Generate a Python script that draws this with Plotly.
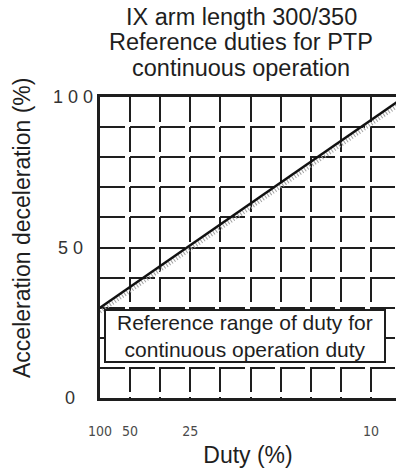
import plotly.graph_objects as go

# Reference duty line: acceleration/deceleration (%) against duty (%)
line_duty = [100, 9.0]
line_accel = [30, 100]

# Duty tick labels (%) and acceleration tick labels (%)
duty_ticks = [100, 50, 25, 10]
accel_ticks = [0, 50, 100]
accel_tick_text = ["0", "5 0", "1 0 0"]
accel_tick_right = [77, 85, 95]   # right edge of each label, px from left

title_lines = ["IX arm length 300/350", "Reference duties for PTP", "continuous operation"]
title_centers = [17, 42, 68]      # px from top

W, H = 396, 474
L, R, T, B = 100, 0, 97, 76
PW, PH = W - L - R, H - T - B

FONT = "Liberation Sans, Arial, sans-serif"
INK = "#1e1e1e"

# The horizontal scale is linear in 100/duty
def inv(d):
    return 100.0 / d

x_line = [inv(d) for d in line_duty]
x_max = 1 + PW / 30.1

fig = go.Figure()

# hatching below the reference line
fig.add_trace(go.Scatter(
    x=x_line, y=[a - 1.3 for a in line_accel], mode="lines",
    line=dict(color="#a0a0a0", width=4, dash="1px,2px"),
    hoverinfo="skip", showlegend=False, cliponaxis=True))
fig.add_trace(go.Scatter(
    x=x_line, y=line_accel, mode="lines",
    line=dict(color="#111111", width=2.5),
    showlegend=False, cliponaxis=True))

grid_style = dict(gridcolor=INK, gridwidth=2, griddash="25px,5px")

fig.update_xaxes(
    range=[1, x_max], tickmode="array",
    tickvals=[inv(d) for d in duty_ticks], ticktext=[str(d) for d in duty_ticks],
    ticks="", ticklabelstandoff=18,
    tickfont=dict(family="Liberation Sans Narrow, DejaVu Sans Condensed, sans-serif",
                  size=14, color="#4a4a4a"),
    showgrid=True, **grid_style,
    minor=dict(tick0=1, dtick=1, showgrid=True, **grid_style),
    showline=True, linecolor=INK, linewidth=2.5, mirror=True,
    zeroline=False, fixedrange=True,
    title=dict(text="Duty (%)", font=dict(family=FONT, size=23, color=INK), standoff=10),
)
fig.update_yaxes(
    range=[0, 100], tickmode="array", tickvals=accel_ticks, showticklabels=False,
    ticks="", showgrid=True, **grid_style,
    minor=dict(tick0=0, dtick=10, showgrid=True, **grid_style),
    showline=True, linecolor=INK, linewidth=2.5, mirror=False,
    zeroline=False, fixedrange=True,
)

annotations = []
for v, txt, xr in zip(accel_ticks, accel_tick_text, accel_tick_right):
    annotations.append(dict(
        x=(xr - L) / PW, xref="paper", y=v, yref="y", text=txt,
        xanchor="right", yanchor="middle", showarrow=False,
        font=dict(family=FONT, size=18, color="#333333")))

for txt, yc in zip(title_lines, title_centers):
    annotations.append(dict(
        x=(241 - L) / PW, xref="paper", y=1 + (T - yc) / PH, yref="paper",
        text=txt, xanchor="center", yanchor="middle", showarrow=False,
        font=dict(family=FONT, size=23.5, color=INK)))

# vertical axis title
annotations.append(dict(
    x=(22 - L) / PW, xref="paper", y=(H - B - 228) / PH, yref="paper",
    text="Acceleration deceleration (%)", textangle=-90,
    xanchor="center", yanchor="middle", showarrow=False,
    font=dict(family=FONT, size=23, color=INK)))

# boxed note
box = dict(x0=105, x1=385, y0=310, y1=362)
annotations.append(dict(
    x=((box["x0"] + box["x1"]) / 2 - L) / PW, xref="paper",
    y=(H - B - (box["y0"] + box["y1"]) / 2) / PH, yref="paper",
    text="Reference range of duty for<br>continuous operation duty",
    xanchor="center", yanchor="middle", showarrow=False,
    font=dict(family=FONT, size=21, color=INK)))

shapes = [dict(
    type="rect", xref="paper", yref="paper", layer="above",
    x0=(box["x0"] - L) / PW, x1=(box["x1"] - L) / PW,
    y0=(H - B - box["y1"]) / PH, y1=(H - B - box["y0"]) / PH,
    fillcolor="white", line=dict(color=INK, width=2))]

fig.update_layout(
    width=W, height=H, margin=dict(l=L, r=R, t=T, b=B),
    paper_bgcolor="white", plot_bgcolor="white",
    annotations=annotations, shapes=shapes, showlegend=False,
)

fig.write_html("out.html", config={"displayModeBar": False})
